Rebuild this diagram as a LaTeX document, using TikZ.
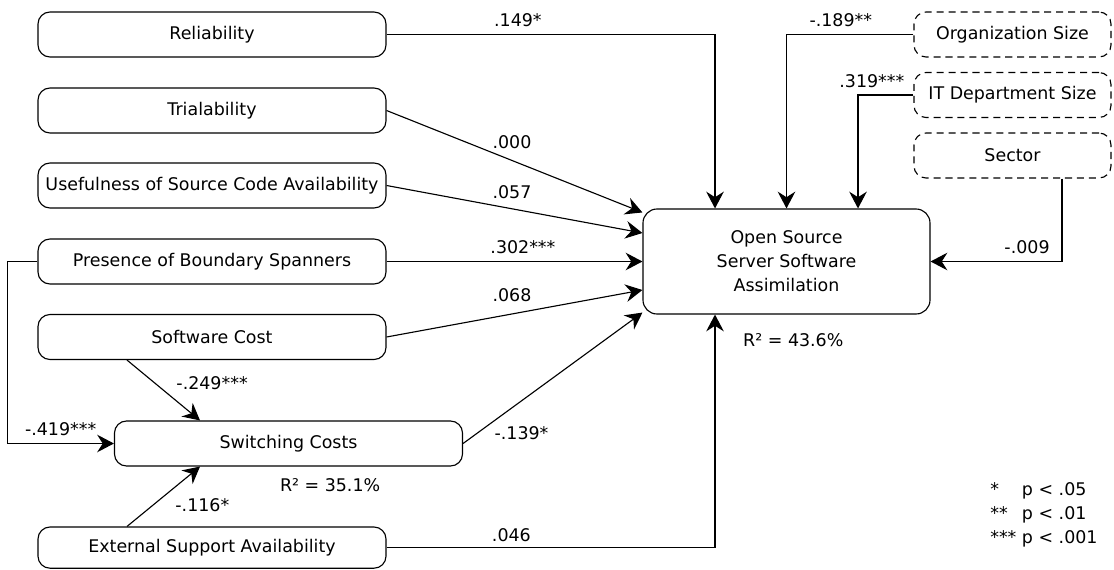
\documentclass[tikz,border=0pt]{standalone}
\usepackage{fontspec}
\setmainfont{DejaVu Sans}
\usetikzlibrary{arrows.meta, positioning}

\begin{document}
\begin{tikzpicture}[
    font=\fontsize{12.4}{17}\selectfont,
    factor/.style={rectangle, draw, thick, rounded corners=0.3cm, minimum width=8.7cm, minimum height=1.125cm, align=center, inner sep=2pt},
    control/.style={factor, dash pattern=on 5pt off 3.5pt, minimum width=4.925cm},
    arrow/.style={-{Stealth[length=4.2mm, width=4.4mm, inset=1.4mm]}, thick},
    coef/.style={inner sep=2pt}
]
    \useasboundingbox (0,0) rectangle (27.85,-14.225);

    % antecedents
    \node[factor] (reliability) at (5.3,-0.8625) {Reliability};
    \node[factor] (trialability) at (5.3,-2.7625) {Trialability};
    \node[factor] (usefulness) at (5.3,-4.6375) {Usefulness of Source Code Availability};
    \node[factor] (spanners) at (5.3,-6.5375) {Presence of Boundary Spanners};
    \node[factor] (cost) at (5.3,-8.425) {Software Cost};
    \node[factor] (switching) at (7.2125,-11.0875) {Switching Costs};
    \node[factor, minimum height=1.03cm] (support) at (5.3,-13.69) {External Support Availability};

    % dependent variable
    \node[factor, minimum width=7.175cm, minimum height=2.625cm, rounded corners=0.35cm] (assimilation) at (19.6625,-6.5375) {Open Source\\Server Software\\Assimilation};

    % control variables
    \node[control] (orgsize) at (25.3125,-0.8625) {Organization Size};
    \node[control] (itsize) at (25.3125,-2.375) {IT Department Size};
    \node[control] (sector) at (25.3125,-3.8875) {Sector};

    % explained variance
    \node[below=0.35cm of assimilation, xshift=0.17cm] (r2main) {R² = 43.6\%};
    \node[below=0.175cm of switching, xshift=1.04cm] (r2switch) {R² = 35.1\%};

    % significance levels
    \node[anchor=west, inner sep=0pt] (legend) at (24.75,-12.87) {\begin{tabular}{@{}l@{ }l@{}}{*} & p < .05\\{**} & p < .01\\{***} & p < .001\end{tabular}};

    % paths to assimilation
    \draw[arrow] (reliability.east) -| node[coef, above=0.1cm, pos=0.2] {.149*} ([xshift=-1.7875cm]assimilation.north);
    \draw[arrow] (trialability.east) -- node[coef, above=0.21cm, pos=0.49] {.000} ([yshift=-0.1cm]assimilation.north west);
    \draw[arrow] (usefulness.east) -- node[coef, above=0.16cm, pos=0.49] {.057} ([yshift=0.7125cm]assimilation.west);
    \draw[arrow] (spanners.east) -- node[coef, above=0.1cm, pos=0.533] {.302***} (assimilation.west);
    \draw[arrow] (cost.east) -- node[coef, above=0.22cm, pos=0.49] {.068} ([yshift=-0.7125cm]assimilation.west);
    \draw[arrow] (switching.east) -- node[coef, below right, pos=0.157] {-.139*} ([yshift=0.05cm]assimilation.south west);
    \draw[arrow] (support.east) -| node[coef, above=0.05cm, pos=0.19] {.046} ([xshift=-1.7875cm]assimilation.south);

    % controls
    \draw[arrow] (orgsize.west) -| node[coef, above=0.1cm, pos=0.286] {-.189**} (assimilation.north);
    \draw[arrow] (itsize.west) -| node[coef, above=0.1cm, pos=0.375] {.319***} ([xshift=1.7875cm]assimilation.north);
    \draw[arrow] ([xshift=1.2375cm]sector.south) |- node[coef, above=0.1cm, pos=0.633] {-.009} (assimilation.east);

    % paths to switching costs
    \draw[arrow] ([xshift=-2.125cm]cost.south) -- node[coef, right=0.45cm, pos=0.385] {-.249***} ([xshift=-2.2125cm]switching.north);
    \draw[arrow] ([xshift=-2.125cm]support.north) -- node[coef, right=0.47cm, pos=0.36] {-.116*} ([xshift=-2.2125cm]switching.south);
    \draw[arrow] (spanners.west) -- ++(-0.75,0) |- node[coef, above=0.1cm, pos=0.75] {-.419***} (switching.west);
\end{tikzpicture}
\end{document}
